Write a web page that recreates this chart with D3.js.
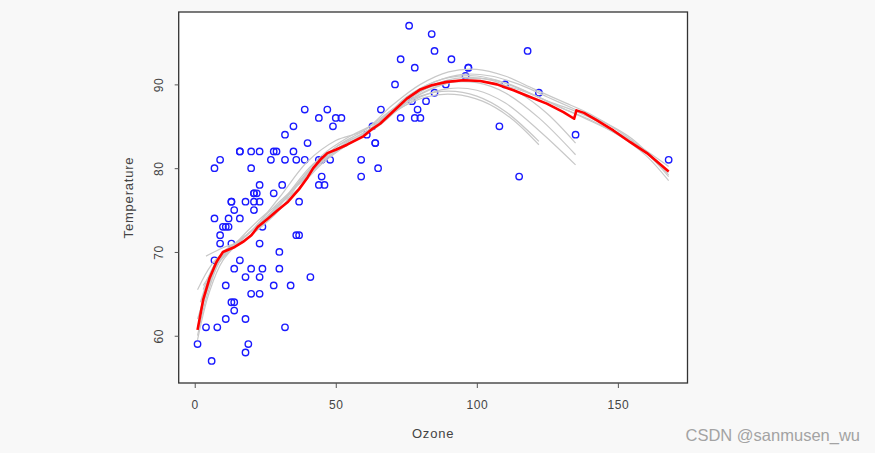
<!DOCTYPE html>
<html>
<head>
<meta charset="utf-8">
<script src="https://cdn.jsdelivr.net/npm/d3@7"></script>
<style>
  html, body { margin: 0; padding: 0; background: #f8f8f8; }
  svg { display: block; }
  text { font-family: "Liberation Sans", Arial, sans-serif; }
</style>
</head>
<body>
<svg id="chart" width="875" height="453"></svg>
<script>
// ---- data (airquality: Ozone vs Temp, NA rows removed) ----
const ozone = [41,36,12,18,28,23,19,8,7,16,11,14,18,14,34,6,30,11,1,11,4,32,23,45,115,37,29,71,39,23,21,37,20,12,13,135,49,32,64,40,77,97,97,85,10,27,7,48,35,61,79,63,16,80,108,20,52,82,50,64,59,39,9,16,78,35,66,122,89,110,44,28,65,22,59,23,31,44,21,9,45,168,73,76,118,84,85,96,78,73,91,47,32,20,23,21,24,44,21,28,9,13,46,18,13,24,16,13,23,36,7,14,30,14,18,20];
const temp  = [67,72,74,62,66,65,59,61,74,69,66,68,58,64,66,57,68,62,59,73,61,61,67,81,79,76,82,90,87,82,77,72,65,73,76,84,85,81,83,83,88,92,92,89,73,81,80,81,82,84,87,85,74,86,85,82,86,88,86,83,81,81,81,82,86,85,87,89,90,90,86,82,80,77,79,76,78,78,77,72,79,81,86,97,94,96,94,91,92,93,93,87,84,80,78,75,73,81,76,77,71,71,78,67,76,68,82,64,71,81,69,63,70,75,76,68];

// loess fit on full data (red)
const fitX = [1,3,5.3,7.7,10,14.2,17.1,20.1,22.4,26,29.5,33.1,37,40,42,44.5,47,50,54,59.8,63,65.7,70.4,75.2,80,84,89.4,95.2,101.2,107.1,113,118.9,124.8,130.7,134.5,135.3,138,142.6,148.4,154.4,160.3,168];
const fitY = [60.7,64.3,66.9,68.8,70,70.6,71.2,72,73,74,75,76,77.5,78.9,80.0,81,81.8,82.2,82.8,83.8,84.7,85.3,86.8,88.3,89.4,89.9,90.3,90.5,90.4,90.0,89.3,88.5,87.7,86.7,85.9,86.9,86.6,85.7,84.5,83.1,81.8,79.6];

// bootstrap loess fits (gray)
const boot1X = [1,5,10,20,30,40,50,60,70,80,90,100,110,122];
const boot1Y = [62,66,69.5,72.5,75.5,79.5,82.5,84.2,86.8,88.6,89.2,88.6,86.8,83.2];
const boot2X = [2,6,12,20,30,40,50,60,70,80,90,100,110,122,135];
const boot2Y = [64,67.5,70,72,75,79.5,82.2,84,86.5,88.5,89.5,89.3,87.8,84.5,80.4];
const boot3X = [1,5,10,20,30,40,50,60,70,80,90,100,110,122,135];
const boot3Y = [59.5,65,69,72.5,76,79,82.5,84.5,87,89.2,90.2,90.2,89,86,81.6];
const boot4X = [3,8,15,25,35,45,55,65,75,85,95,105,115,125,135];
const boot4Y = [65.5,69,71,74,77.5,81.5,83.8,85.5,88,90,90.8,90.5,89,86.5,83];
const boot5X = [1,6,12,20,30,40,50,60,70,80,90,100,110,120,130,140,150,160,168];
const boot5Y = [65.5,68.5,70.5,72.5,76.5,80.8,83.3,84.5,87.5,90,91.5,91.8,91,89.5,88,86.5,84.5,82,79.5];
const boot6X = [1,5,10,20,30,40,50,60,70,80,90,100,110,120,130,140,150,160,168];
const boot6Y = [60,65.5,69.5,72,75.5,79.5,82,84,87,89.5,90.8,91,90.2,88.8,87.2,85.8,84,81.8,79];
const boot7X = [4,10,18,25,35,45,55,65,75,85,95,105,115,125,135,145,155,168];
const boot7Y = [69.5,70.5,71.5,74,77.5,81,83.3,85.3,88.5,90.3,91.2,91,90,88.5,87,85.5,83.5,79.2];
const boot8X = [2,7,13,22,32,42,52,62,72,82,92,102,112,122];
const boot8Y = [63,68,70.5,73,76.5,80.5,82.5,84.5,87,88.5,88.8,88,86,82.8];
const boot9X = [1,5,10,18,28,38,48,58,68,78,88,98,108,118,128,138,150,160,168];
const boot9Y = [61,66,70,71.5,75,78.5,81.5,83.5,86,88.5,90,90.5,90,89,87.5,86,84,81.5,78.5];
const boot10X = [3,8,15,25,35,45,55,65,75,85,95,105,115,125,135,145,155,168];
const boot10Y = [66,68.5,71.2,74.5,77,80.5,83,85,87.8,89.6,90.6,90.6,89.5,88,86.8,85.2,83.2,80.2];

const xTicks = [0, 50, 100, 150];
const yTicks = [60, 70, 80, 90];

// ---- drawing ----
const svg = d3.select("#chart");
const box = { left: 178.7, right: 687.5, top: 12, bottom: 383 };

const x = d3.scaleLinear().domain([-5.68, 174.68]).range([box.left, box.right]);
const y = d3.scaleLinear().domain([54.36, 98.64]).range([box.bottom, box.top]);

svg.append("rect").attr("width", 875).attr("height", 453).attr("fill", "#f8f8f8");
svg.append("rect")
  .attr("x", box.left).attr("y", box.top)
  .attr("width", box.right - box.left).attr("height", box.bottom - box.top)
  .attr("fill", "#ffffff");

// points
svg.append("g").selectAll("circle")
  .data(ozone.map((o, i) => [o, temp[i]]))
  .join("circle")
  .attr("cx", d => x(d[0])).attr("cy", d => y(d[1]))
  .attr("r", 3.2)
  .attr("fill", "none").attr("stroke", "#1a1aff").attr("stroke-width", 1.4);

// bootstrap curves
const boots = [
  [boot1X, boot1Y], [boot2X, boot2Y], [boot3X, boot3Y], [boot4X, boot4Y], [boot5X, boot5Y],
  [boot6X, boot6Y], [boot7X, boot7Y], [boot8X, boot8Y], [boot9X, boot9Y], [boot10X, boot10Y]
];
const smooth = d3.line().x(d => x(d[0])).y(d => y(d[1])).curve(d3.curveCatmullRom);
svg.append("g").selectAll("path")
  .data(boots.map(([bx, by]) => bx.map((v, i) => [v, by[i]])))
  .join("path")
  .attr("d", smooth)
  .attr("fill", "none").attr("stroke", "#c8c8c8").attr("stroke-width", 1.2);

// main fit
const lin = d3.line().x(d => x(d[0])).y(d => y(d[1]));
svg.append("path")
  .datum(fitX.map((v, i) => [v, fitY[i]]))
  .attr("d", lin)
  .attr("fill", "none").attr("stroke", "#ff0000").attr("stroke-width", 2.6)
  .attr("stroke-linejoin", "round");

// frame
svg.append("rect")
  .attr("x", box.left).attr("y", box.top)
  .attr("width", box.right - box.left).attr("height", box.bottom - box.top)
  .attr("fill", "none").attr("stroke", "#333").attr("stroke-width", 1.3);

// x axis
const xAxis = svg.append("g").attr("transform", `translate(0,${box.bottom})`)
  .call(d3.axisBottom(x).tickValues(xTicks).tickSize(5).tickPadding(12).tickFormat(d3.format("d")));
xAxis.select(".domain").remove();
xAxis.selectAll("line").attr("stroke", "#555");
xAxis.selectAll("text").attr("font-size", 12).attr("fill", "#444")
  .attr("font-family", "Liberation Sans, Arial, sans-serif").attr("letter-spacing", 0.6);

// y axis
const yAxis = svg.append("g").attr("transform", `translate(${box.left},0)`)
  .call(d3.axisLeft(y).tickValues(yTicks).tickSize(4).tickFormat(d3.format("d")));
yAxis.select(".domain").remove();
yAxis.selectAll("line").attr("stroke", "#555");
yAxis.selectAll("text")
  .attr("x", null).attr("dy", null)
  .attr("text-anchor", "middle")
  .attr("dominant-baseline", "central")
  .attr("transform", "translate(-20,0) rotate(-90)")
  .attr("font-size", 12).attr("fill", "#444")
  .attr("font-family", "Liberation Sans, Arial, sans-serif").attr("letter-spacing", 0.6);

// titles
svg.append("text")
  .attr("x", (box.left + box.right) / 2).attr("y", 433)
  .attr("text-anchor", "middle").attr("dominant-baseline", "central")
  .attr("font-size", 13).attr("fill", "#444").attr("letter-spacing", 0.8)
  .text("Ozone");
svg.append("text")
  .attr("transform", `translate(128,${(box.top + box.bottom) / 2}) rotate(-90)`)
  .attr("text-anchor", "middle").attr("dominant-baseline", "central")
  .attr("font-size", 13).attr("fill", "#444").attr("letter-spacing", 0.8)
  .text("Temperature");

// watermark
svg.append("text")
  .attr("x", 860).attr("y", 441)
  .attr("text-anchor", "end")
  .attr("font-size", 16.5).attr("fill", "#a3a3a3")
  .text("CSDN @sanmusen_wu");
</script>
</body>
</html>
